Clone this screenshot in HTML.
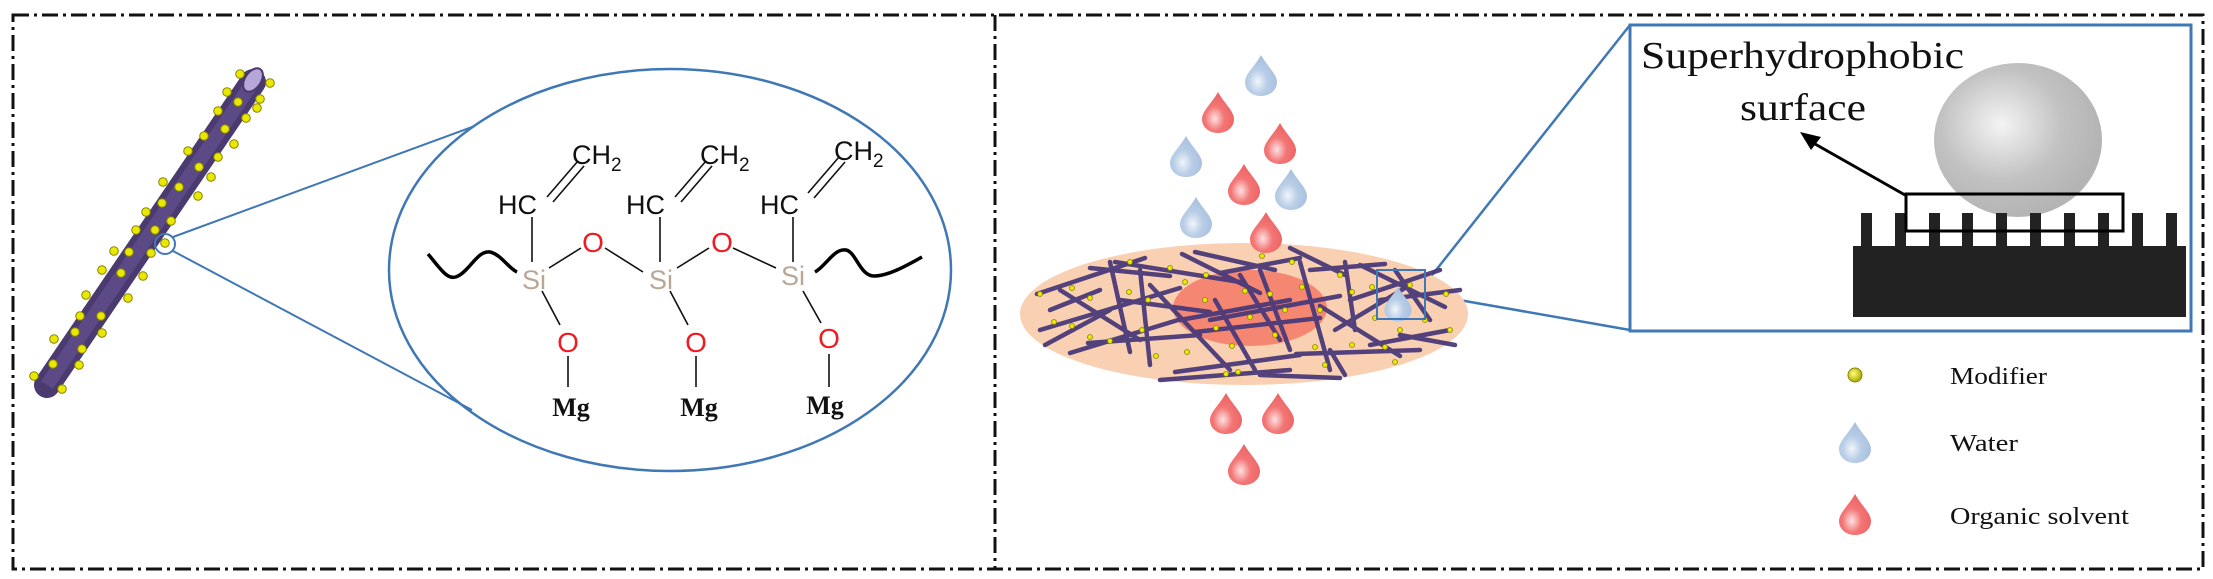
<!DOCTYPE html>
<html><head><meta charset="utf-8"><style>html,body{margin:0;padding:0;background:#fff}svg{display:block}</style></head><body>
<svg width="2213" height="579" viewBox="0 0 2213 579" xmlns="http://www.w3.org/2000/svg">
<defs>
<radialGradient id="sph" cx="0.4" cy="0.4" r="0.6"><stop offset="0" stop-color="#f4f4f4"/><stop offset="0.6" stop-color="#c2c2c2"/><stop offset="1" stop-color="#b4b4b4"/></radialGradient>
<radialGradient id="wd" cx="0.4" cy="0.65" r="0.6"><stop offset="0" stop-color="#f0f5fb"/><stop offset="0.5" stop-color="#b8cde6"/><stop offset="1" stop-color="#a9c1df"/></radialGradient>
<radialGradient id="rd" cx="0.4" cy="0.65" r="0.6"><stop offset="0" stop-color="#fde2e2"/><stop offset="0.5" stop-color="#f37676"/><stop offset="1" stop-color="#ee6565"/></radialGradient>
<radialGradient id="yd" cx="0.4" cy="0.4" r="0.6"><stop offset="0" stop-color="#ffff80"/><stop offset="1" stop-color="#b0a800"/></radialGradient>
<path id="drop" d="M0,-19 C6,-8 16,0 16,8 C16,17 8,22 0,22 C-8,22 -16,17 -16,8 C-16,0 -6,-8 0,-19Z"/>
</defs>
<g fill="none" stroke="#111" stroke-width="3" stroke-dasharray="16 5 3 5">
<rect x="13" y="15" width="2190" height="554"/>
<line x1="995" y1="15" x2="995" y2="569"/>
</g>
<!-- fiber -->
<line x1="253" y1="82" x2="47" y2="385" stroke="#4a3a70" stroke-width="26" stroke-linecap="round"/>
<line x1="253" y1="82" x2="47" y2="385" stroke="#5c4a86" stroke-width="14"/>
<ellipse cx="253" cy="80" rx="13" ry="8" transform="rotate(-56 253 80)" fill="#b7a7d8" stroke="#4a3a70" stroke-width="2"/>
<g fill="#e8e800" stroke="#8a8400" stroke-width="1">
<circle cx="240" cy="74" r="4.3"/><circle cx="270" cy="83" r="4.3"/><circle cx="227" cy="92" r="4.3"/><circle cx="260" cy="99" r="4.3"/><circle cx="238" cy="102" r="4.3"/><circle cx="257" cy="108" r="4.3"/><circle cx="218" cy="111" r="4.3"/><circle cx="246" cy="118" r="4.3"/><circle cx="225" cy="129" r="4.3"/><circle cx="204" cy="136" r="4.3"/><circle cx="234" cy="144" r="4.3"/><circle cx="188" cy="151" r="4.3"/><circle cx="218" cy="157" r="4.3"/><circle cx="199" cy="167" r="4.3"/><circle cx="211" cy="177" r="4.3"/><circle cx="163" cy="182" r="4.3"/><circle cx="179" cy="187" r="4.3"/><circle cx="198" cy="196" r="4.3"/><circle cx="162" cy="203" r="4.3"/><circle cx="146" cy="212" r="4.3"/><circle cx="171" cy="221" r="4.3"/><circle cx="136" cy="230" r="4.3"/><circle cx="155" cy="230" r="4.3"/><circle cx="165" cy="243" r="4.3"/><circle cx="114" cy="251" r="4.3"/><circle cx="129" cy="252" r="4.3"/><circle cx="151" cy="253" r="4.3"/><circle cx="102" cy="270" r="4.3"/><circle cx="121" cy="273" r="4.3"/><circle cx="143" cy="276" r="4.3"/><circle cx="86" cy="295" r="4.3"/><circle cx="128" cy="298" r="4.3"/><circle cx="80" cy="316" r="4.3"/><circle cx="101" cy="316" r="4.3"/><circle cx="75" cy="332" r="4.3"/><circle cx="102" cy="333" r="4.3"/><circle cx="54" cy="339" r="4.3"/><circle cx="82" cy="349" r="4.3"/><circle cx="53" cy="364" r="4.3"/><circle cx="79" cy="365" r="4.3"/><circle cx="34" cy="376" r="4.3"/><circle cx="62" cy="389" r="4.3"/>
</g>
<circle cx="165" cy="244" r="10" fill="none" stroke="#3f78b5" stroke-width="2"/>
<g stroke="#3f78b5" stroke-width="2" fill="none">
<line x1="173" y1="237" x2="472" y2="127"/><line x1="173" y1="251" x2="472" y2="410"/>
<ellipse cx="670" cy="270" rx="281" ry="201" stroke-width="2.5"/>
</g>
<!-- chemistry -->
<g stroke="#111" stroke-width="1.6" fill="none">
<line x1="532" y1="217" x2="532" y2="262"/><line x1="660" y1="217" x2="660" y2="262"/><line x1="793" y1="217" x2="793" y2="262"/>
<line x1="547" y1="197" x2="578" y2="161"/><line x1="553" y1="202" x2="584" y2="166"/>
<line x1="675" y1="197" x2="706" y2="161"/><line x1="681" y1="202" x2="712" y2="166"/>
<line x1="808" y1="193" x2="839" y2="157"/><line x1="814" y1="198" x2="845" y2="162"/>
<line x1="549" y1="268" x2="581" y2="248"/><line x1="605" y1="248" x2="643" y2="272"/>
<line x1="677" y1="268" x2="709" y2="248"/><line x1="733" y1="248" x2="776" y2="268"/>
<line x1="542" y1="291" x2="560" y2="325"/><line x1="670" y1="291" x2="688" y2="325"/><line x1="803" y1="291" x2="821" y2="323"/>
<line x1="568" y1="356" x2="568" y2="387"/><line x1="696" y1="356" x2="696" y2="387"/><line x1="829" y1="354" x2="829" y2="387"/>
</g>
<path d="M428,254 C440,268 448,282 458,276 C470,270 478,250 490,252 C502,255 508,268 517,272" stroke="#000" stroke-width="3.5" fill="none"/>
<path d="M815,272 C826,266 834,248 846,250 C856,252 860,276 874,276 C888,276 906,266 922,257" stroke="#000" stroke-width="3.5" fill="none"/>
<g font-family="Liberation Sans, sans-serif" font-size="27" fill="#111">
<text x="498" y="214">HC</text><text x="626" y="214">HC</text><text x="760" y="214">HC</text>
<text x="572" y="164">CH<tspan font-size="19" dy="7">2</tspan></text>
<text x="700" y="164">CH<tspan font-size="19" dy="7">2</tspan></text>
<text x="834" y="160">CH<tspan font-size="19" dy="7">2</tspan></text>
</g>
<g font-family="Liberation Sans, sans-serif" font-size="27" fill="#b9a796" text-anchor="middle">
<text x="534" y="289">Si</text><text x="661" y="289">Si</text><text x="793" y="285">Si</text>
</g>
<g font-family="Liberation Sans, sans-serif" font-size="28" fill="#ee1c24" text-anchor="middle">
<text x="593" y="252">O</text><text x="722" y="252">O</text><text x="568" y="352">O</text><text x="696" y="352">O</text><text x="829" y="348">O</text>
</g>
<g font-family="Liberation Serif, serif" font-size="26" font-weight="bold" fill="#111" text-anchor="middle">
<text x="571" y="416">Mg</text><text x="699" y="416">Mg</text><text x="825" y="414">Mg</text>
</g>
<!-- right panel -->
<g stroke="#3f78b5" stroke-width="2.5" fill="none">
<line x1="1425" y1="284" x2="1630" y2="25"/><line x1="1425" y1="294" x2="1630" y2="330"/>
<rect x="1630" y="25" width="561" height="306" stroke-width="3"/>
</g>
<ellipse cx="1244" cy="314" rx="224" ry="71" fill="#f9d1b2"/>
<ellipse cx="1250" cy="308" rx="77" ry="38" fill="#f47e6a" opacity="0.9"/>
<g stroke="#4b3a7a" stroke-width="4.5" stroke-linecap="round" opacity="0.95">
<line x1="1037" y1="294" x2="1145" y2="258"/><line x1="1040" y1="330" x2="1180" y2="288"/><line x1="1060" y1="290" x2="1140" y2="340"/>
<line x1="1110" y1="262" x2="1130" y2="352"/><line x1="1088" y1="343" x2="1200" y2="335"/><line x1="1070" y1="353" x2="1178" y2="320"/>
<line x1="1115" y1="262" x2="1240" y2="282"/><line x1="1140" y1="270" x2="1150" y2="365"/><line x1="1150" y1="285" x2="1230" y2="370"/>
<line x1="1195" y1="252" x2="1275" y2="270"/><line x1="1182" y1="254" x2="1260" y2="293"/><line x1="1175" y1="372" x2="1300" y2="355"/>
<line x1="1160" y1="380" x2="1290" y2="370"/><line x1="1180" y1="320" x2="1290" y2="300"/><line x1="1215" y1="300" x2="1255" y2="370"/>
<line x1="1220" y1="273" x2="1300" y2="258"/><line x1="1240" y1="275" x2="1280" y2="340"/><line x1="1260" y1="270" x2="1290" y2="350"/>
<line x1="1195" y1="332" x2="1320" y2="318"/><line x1="1210" y1="320" x2="1340" y2="296"/><line x1="1290" y1="248" x2="1345" y2="275"/>
<line x1="1300" y1="262" x2="1330" y2="370"/><line x1="1310" y1="270" x2="1385" y2="264"/><line x1="1320" y1="306" x2="1400" y2="356"/>
<line x1="1296" y1="354" x2="1420" y2="350"/><line x1="1345" y1="262" x2="1355" y2="330"/><line x1="1335" y1="330" x2="1410" y2="285"/>
<line x1="1350" y1="300" x2="1440" y2="270"/><line x1="1360" y1="265" x2="1445" y2="307"/><line x1="1370" y1="345" x2="1450" y2="330"/>
<line x1="1395" y1="270" x2="1430" y2="320"/><line x1="1380" y1="300" x2="1460" y2="290"/><line x1="1260" y1="375" x2="1340" y2="378"/>
<line x1="1330" y1="350" x2="1345" y2="375"/><line x1="1050" y1="310" x2="1100" y2="290"/><line x1="1120" y1="300" x2="1210" y2="312"/>
<line x1="1045" y1="345" x2="1110" y2="310"/><line x1="1090" y1="268" x2="1170" y2="276"/><line x1="1400" y1="335" x2="1455" y2="345"/>
</g>
<g fill="#e8e800" stroke="#8a8400" stroke-width="0.8">
<circle cx="1040" cy="294" r="2.5"/><circle cx="1072" cy="288" r="2.5"/><circle cx="1090" cy="298" r="2.5"/><circle cx="1054" cy="322" r="2.5"/><circle cx="1072" cy="326" r="2.5"/><circle cx="1090" cy="337" r="2.5"/><circle cx="1110" cy="341" r="2.5"/><circle cx="1130" cy="262" r="2.5"/><circle cx="1129" cy="292" r="2.5"/><circle cx="1148" cy="300" r="2.5"/><circle cx="1142" cy="330" r="2.5"/><circle cx="1156" cy="356" r="2.5"/><circle cx="1170" cy="268" r="2.5"/><circle cx="1185" cy="282" r="2.5"/><circle cx="1206" cy="275" r="2.5"/><circle cx="1205" cy="300" r="2.5"/><circle cx="1216" cy="328" r="2.5"/><circle cx="1232" cy="346" r="2.5"/><circle cx="1245" cy="291" r="2.5"/><circle cx="1238" cy="372" r="2.5"/><circle cx="1250" cy="317" r="2.5"/><circle cx="1262" cy="256" r="2.5"/><circle cx="1270" cy="294" r="2.5"/><circle cx="1275" cy="335" r="2.5"/><circle cx="1285" cy="310" r="2.5"/><circle cx="1292" cy="262" r="2.5"/><circle cx="1302" cy="287" r="2.5"/><circle cx="1315" cy="347" r="2.5"/><circle cx="1320" cy="310" r="2.5"/><circle cx="1325" cy="365" r="2.5"/><circle cx="1340" cy="275" r="2.5"/><circle cx="1352" cy="292" r="2.5"/><circle cx="1352" cy="345" r="2.5"/><circle cx="1372" cy="287" r="2.5"/><circle cx="1375" cy="318" r="2.5"/><circle cx="1385" cy="347" r="2.5"/><circle cx="1400" cy="330" r="2.5"/><circle cx="1410" cy="285" r="2.5"/><circle cx="1425" cy="320" r="2.5"/><circle cx="1446" cy="294" r="2.5"/><circle cx="1450" cy="330" r="2.5"/><circle cx="1395" cy="362" r="2.5"/><circle cx="1187" cy="352" r="2.5"/><circle cx="1226" cy="374" r="2.5"/>
</g>
<use href="#drop" transform="translate(1398,303) scale(0.85)" fill="url(#wd)"/>
<rect x="1377" y="270" width="48" height="49" fill="none" stroke="#3f78b5" stroke-width="2"/>
<!-- droplets -->
<use href="#drop" transform="translate(1261,74)" fill="url(#wd)"/>
<use href="#drop" transform="translate(1218,111)" fill="url(#rd)"/>
<use href="#drop" transform="translate(1280,142)" fill="url(#rd)"/>
<use href="#drop" transform="translate(1186,155)" fill="url(#wd)"/>
<use href="#drop" transform="translate(1244,183)" fill="url(#rd)"/>
<use href="#drop" transform="translate(1291,188)" fill="url(#wd)"/>
<use href="#drop" transform="translate(1196,216)" fill="url(#wd)"/>
<use href="#drop" transform="translate(1266,231)" fill="url(#rd)"/>
<use href="#drop" transform="translate(1226,412)" fill="url(#rd)"/>
<use href="#drop" transform="translate(1278,412)" fill="url(#rd)"/>
<use href="#drop" transform="translate(1244,463)" fill="url(#rd)"/>
<!-- inset -->
<ellipse cx="2018" cy="140" rx="84" ry="77" fill="url(#sph)"/>
<rect x="1853" y="246" width="333" height="71" fill="#222"/>
<g fill="#222">
<rect x="1861" y="213" width="11" height="34"/><rect x="1895" y="213" width="11" height="34"/><rect x="1929" y="213" width="11" height="34"/><rect x="1962" y="213" width="11" height="34"/><rect x="1996" y="213" width="11" height="34"/><rect x="2030" y="213" width="11" height="34"/><rect x="2064" y="213" width="11" height="34"/><rect x="2098" y="213" width="11" height="34"/><rect x="2132" y="213" width="11" height="34"/><rect x="2166" y="213" width="11" height="34"/>
</g>
<rect x="1906" y="194" width="217" height="37" fill="none" stroke="#000" stroke-width="3"/>
<line x1="1905" y1="195" x2="1808" y2="140" stroke="#000" stroke-width="3"/>
<polygon points="1800,132 1821,137 1811,150" fill="#000"/>
<g font-family="Liberation Serif, serif" fill="#111">
<text x="1641" y="68" font-size="38" textLength="323" lengthAdjust="spacingAndGlyphs">Superhydrophobic</text>
<text x="1740" y="120" font-size="38" textLength="126" lengthAdjust="spacingAndGlyphs">surface</text>
<text x="1950" y="384" font-size="24" textLength="97" lengthAdjust="spacingAndGlyphs">Modifier</text>
<text x="1950" y="451" font-size="24" textLength="68" lengthAdjust="spacingAndGlyphs">Water</text>
<text x="1950" y="524" font-size="24" textLength="179" lengthAdjust="spacingAndGlyphs">Organic solvent</text>
</g>
<circle cx="1855" cy="375" r="7" fill="url(#yd)" stroke="#8a8400" stroke-width="1"/>
<use href="#drop" transform="translate(1855,441)" fill="url(#wd)"/>
<use href="#drop" transform="translate(1855,513)" fill="url(#rd)"/>
</svg>
</body></html>
